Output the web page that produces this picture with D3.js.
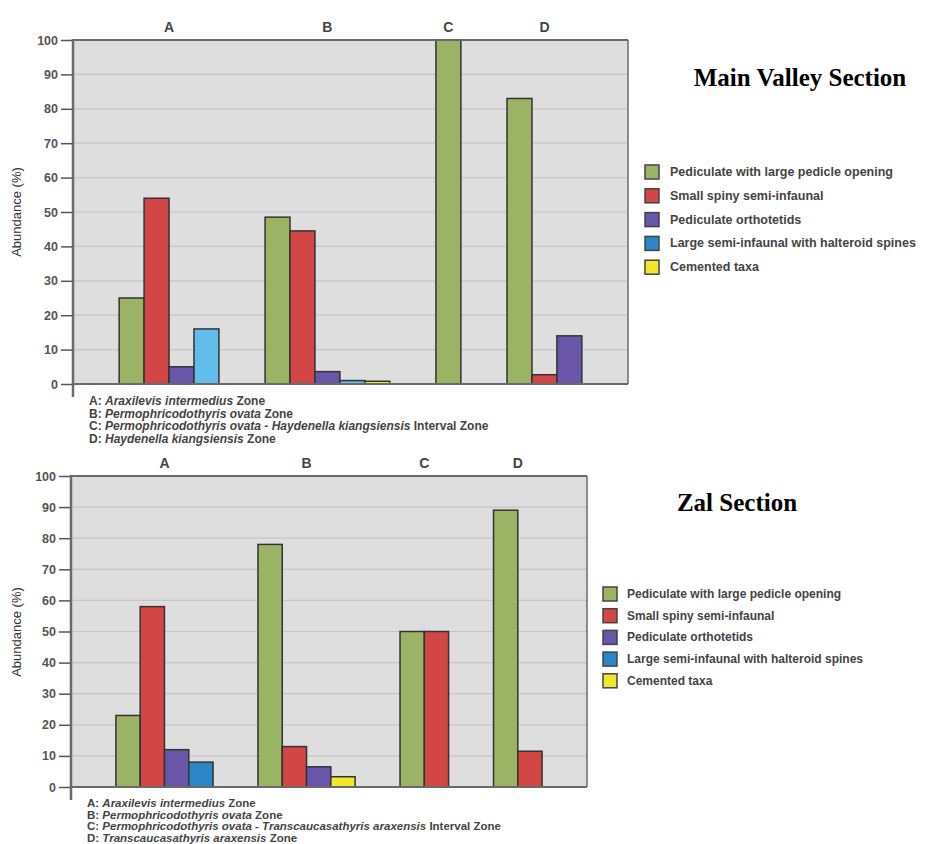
<!DOCTYPE html>
<html>
<head>
<meta charset="utf-8">
<script src="https://cdn.jsdelivr.net/npm/d3@7"></script>
<style>
  body { margin: 0; background: #fff; }
  svg { display: block; font-family: "Liberation Sans", Arial, sans-serif; }
</style>
</head>
<body>
<svg width="944" height="844"></svg>
<script>
// zones and series
const zones = ["A", "B", "C", "D"];
const series = [
    "Pediculate with large pedicle opening",
    "Small spiny semi-infaunal",
    "Pediculate orthotetids",
    "Large semi-infaunal with halteroid spines",
    "Cemented taxa"
];
const yTicks = [0, 10, 20, 30, 40, 50, 60, 70, 80, 90, 100];

// abundance (%) per zone, one value per series
const mainValleyA = [25, 54, 5, 16, 0];
const mainValleyB = [48.5, 44.5, 3.6, 1, 0.8];
const mainValleyC = [100, 0, 0, 0, 0];
const mainValleyD = [83, 2.7, 14, 0, 0];

const zalA = [23, 58, 12, 8, 0];
const zalB = [78, 13, 6.5, 0, 3.3];
const zalC = [50, 50, 0, 0, 0];
const zalD = [89, 11.5, 0, 0, 0];

const mainValleyNotes = [
    ["A: ", "Araxilevis intermedius", " Zone"],
    ["B: ", "Permophricodothyris ovata", " Zone"],
    ["C: ", "Permophricodothyris ovata - Haydenella kiangsiensis", " Interval Zone"],
    ["D: ", "Haydenella kiangsiensis", " Zone"]
];
const zalNotes = [
    ["A: ", "Araxilevis intermedius", " Zone"],
    ["B: ", "Permophricodothyris ovata", " Zone"],
    ["C: ", "Permophricodothyris ovata - Transcaucasathyris araxensis", " Interval Zone"],
    ["D: ", "Transcaucasathyris araxensis", " Zone"]
];

const colors = ["#9bb365", "#d24646", "#6a56a8", "#2b86c8", "#f2e82a"];

const svg = d3.select("svg");

function drawPanel(p) {
    const g = svg.append("g");
    const y = d3.scaleLinear().domain([0, 100]).range([p.bottom, p.top]);

    // pack non-zero bars per zone with equal gaps
    const gapUnits = 1.85;
    let pos = gapUnits;
    const bars = [];
    const groups = [];
    p.values.forEach(function (vals, zi) {
        const start = pos;
        vals.forEach(function (v, si) {
            if (v > 0) { bars.push({ zone: zi, s: si, v: v, u: pos }); pos += 1; }
        });
        groups.push({ zone: zones[zi], mid: (start + pos) / 2 });
        pos += gapUnits;
    });
    const x = d3.scaleLinear().domain([0, pos]).range([p.left, p.right]);

    g.append("rect")
        .attr("x", p.left).attr("y", p.top)
        .attr("width", p.right - p.left).attr("height", p.bottom - p.top)
        .attr("fill", "#dedede");

    g.selectAll(".grid").data(yTicks.slice(1, -1)).enter().append("line")
        .attr("x1", p.left).attr("x2", p.right)
        .attr("y1", d => y(d)).attr("y2", d => y(d))
        .attr("stroke", "#c4c4c4").attr("stroke-width", 1.2);

    g.selectAll(".bar").data(bars).enter().append("rect")
        .attr("x", d => x(d.u))
        .attr("y", d => y(d.v))
        .attr("width", x(1) - x(0))
        .attr("height", d => y(0) - y(d.v))
        .attr("fill", d => (p.barColors || colors)[d.s])
        .attr("stroke", "#333").attr("stroke-width", 1.5);

    // frame
    g.append("line").attr("x1", p.left).attr("x2", p.right)
        .attr("y1", p.top).attr("y2", p.top)
        .attr("stroke", "#6a6a6a").attr("stroke-width", 2);
    g.append("line").attr("x1", p.right).attr("x2", p.right)
        .attr("y1", p.top).attr("y2", p.bottom)
        .attr("stroke", "#6a6a6a").attr("stroke-width", 1.5);
    g.append("line").attr("x1", p.left).attr("x2", p.right)
        .attr("y1", p.bottom).attr("y2", p.bottom)
        .attr("stroke", "#6a6a6a").attr("stroke-width", 2);

    const yAxis = d3.axisLeft(y).tickValues(yTicks).tickSize(12).tickPadding(3);
    const ax = g.append("g")
        .attr("transform", "translate(" + p.left + ",0)")
        .call(yAxis);
    ax.select(".domain").remove();
    ax.selectAll(".tick line").attr("stroke", "#555").attr("stroke-width", 1.5);
    ax.selectAll(".tick text")
        .attr("fill", "#555").attr("font-size", 12.5).attr("font-weight", "bold")
        .attr("font-family", "Liberation Sans, Arial, sans-serif");
    g.append("line").attr("x1", p.left).attr("x2", p.left)
        .attr("y1", p.top - 1).attr("y2", p.bottom + 13)
        .attr("stroke", "#6a6a6a").attr("stroke-width", 2.5);

    g.append("text")
        .attr("transform", "translate(" + 21 + "," + p.labelMid + ") rotate(-90)")
        .attr("text-anchor", "middle")
        .attr("font-size", 13).attr("fill", "#333")
        .text("Abundance (%)");

    g.selectAll(".zone").data(groups).enter().append("text")
        .attr("x", d => x(d.mid)).attr("y", p.top - 8)
        .attr("text-anchor", "middle")
        .attr("font-size", 14).attr("font-weight", "bold").attr("fill", "#444")
        .text(d => d.zone);

    // footnotes
    const notes = g.selectAll(".note").data(p.notes).enter().append("text")
        .attr("x", p.left + 16)
        .attr("y", (d, i) => p.noteY + i * p.noteStep)
        .attr("font-size", p.noteFont).attr("font-weight", "bold").attr("fill", "#444");
    notes.append("tspan").text(d => d[0]);
    notes.append("tspan").attr("font-style", "italic").text(d => d[1]);
    notes.append("tspan").text(d => d[2]);

    // legend
    const lg = g.selectAll(".leg").data(series).enter().append("g")
        .attr("transform", (d, i) => "translate(" + p.legX + "," + (p.legY + i * p.legStep) + ")");
    lg.append("rect")
        .attr("x", 0).attr("y", -7).attr("width", 14).attr("height", 14)
        .attr("fill", (d, i) => colors[i])
        .attr("stroke", "#444").attr("stroke-width", 1.5);
    lg.append("text")
        .attr("x", p.legText).attr("y", 4)
        .attr("font-size", p.legFont).attr("font-weight", "bold").attr("fill", "#444")
        .text(d => d);

    svg.append("text")
        .attr("x", p.titleX).attr("y", p.titleY)
        .attr("text-anchor", "middle")
        .attr("font-family", "Liberation Serif, Times New Roman, serif")
        .attr("font-size", 25).attr("font-weight", "bold").attr("fill", "#000")
        .text(p.title);
}

drawPanel({
    values: [mainValleyA, mainValleyB, mainValleyC, mainValleyD],
    barColors: ["#9bb365", "#d24646", "#6a56a8", "#62bcec", "#f2e82a"],
    left: 73, right: 628, top: 40, bottom: 384,
    labelMid: 212,
    notes: mainValleyNotes, noteY: 405, noteStep: 12.7, noteFont: 12,
    legX: 645, legY: 172, legStep: 23.8, legText: 25, legFont: 12.5,
    title: "Main Valley Section", titleX: 800, titleY: 86
});

drawPanel({
    values: [zalA, zalB, zalC, zalD],
    left: 71, right: 587, top: 476, bottom: 787,
    labelMid: 632,
    notes: zalNotes, noteY: 807, noteStep: 11.5, noteFont: 11.5,
    legX: 603, legY: 594, legStep: 21.7, legText: 24, legFont: 12,
    title: "Zal Section", titleX: 737, titleY: 511
});
</script>
</body>
</html>
